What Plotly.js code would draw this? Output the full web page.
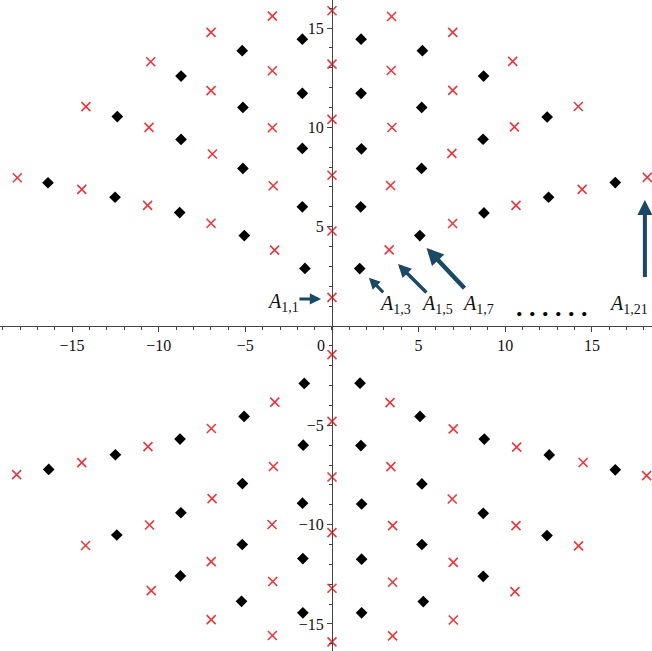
<!DOCTYPE html>
<html>
<head>
<meta charset="utf-8">
<script src="https://cdn.plot.ly/plotly-3.0.1.min.js"></script>
<style>
  html, body { margin: 0; padding: 0; background: #fff; }
  #lattice { width: 652px; height: 651px; }
</style>
</head>
<body>
<div id="lattice"></div>
<script>
// black diamonds, quadrant by quadrant (I, II, III, IV)
const blackX = [
  1.68, 1.68, 1.70, 1.66, 1.60, 5.22, 5.18, 5.17, 5.07, 8.75, 8.72, 8.77, 12.42, 12.50, 16.35,
  -1.71, -1.71, -1.71, -1.71, -1.56, -5.18, -5.14, -5.14, -5.06, -8.71, -8.71, -8.79, -12.39, -12.52, -16.39,
  -1.68, -1.68, -1.70, -1.66, -1.60, -5.22, -5.18, -5.17, -5.07, -8.75, -8.72, -8.77, -12.42, -12.50, -16.35,
  1.71, 1.71, 1.71, 1.67, 1.62, 5.27, 5.19, 5.19, 5.08, 8.73, 8.73, 8.79, 12.41, 12.54, 16.35
];
const blackY = [
  14.44, 11.71, 8.92, 6.00, 2.89, 13.86, 11.00, 7.93, 4.55, 12.58, 9.40, 5.69, 10.52, 6.48, 7.22,
  14.44, 11.71, 8.94, 6.00, 2.90, 13.86, 11.00, 7.93, 4.55, 12.58, 9.39, 5.71, 10.54, 6.48, 7.21,
  -14.44, -11.71, -8.92, -6.00, -2.89, -13.86, -11.00, -7.93, -4.55, -12.58, -9.40, -5.69, -10.52, -6.48, -7.22,
  -14.44, -11.74, -8.96, -6.02, -2.88, -13.87, -11.00, -7.95, -4.55, -12.60, -9.43, -5.69, -10.55, -6.49, -7.24
];

// red crosses: the y-axis column first, then quadrants I, II, III, IV
const redX = [
  0, 0, 0, 0, 0, 0, 0, 0, 0, 0, 0, 0,
  3.44, 3.42, 3.46, 3.38, 3.30, 6.97, 6.97, 6.92, 6.96, 10.43, 10.53, 10.62, 14.22, 14.44, 18.20,
  -3.44, -3.44, -3.44, -3.39, -3.31, -6.98, -6.98, -6.90, -6.98, -10.46, -10.56, -10.64, -14.20, -14.44, -18.16,
  -3.44, -3.42, -3.46, -3.38, -3.30, -6.97, -6.97, -6.92, -6.96, -10.43, -10.53, -10.62, -14.22, -14.44, -18.20,
  3.50, 3.50, 3.50, 3.40, 3.35, 7.00, 7.00, 6.94, 7.00, 10.56, 10.62, 10.66, 14.23, 14.50, 18.16
];
const redY = [
  1.44, 4.78, 7.59, 10.40, 13.18, 15.87, -1.44, -4.80, -7.60, -10.40, -13.20, -15.90,
  15.58, 12.86, 9.99, 7.07, 3.83, 14.78, 11.86, 8.69, 5.16, 13.32, 10.02, 6.07, 11.05, 6.88, 7.48,
  15.60, 12.85, 9.98, 7.06, 3.82, 14.78, 11.85, 8.66, 5.17, 13.30, 10.00, 6.07, 11.04, 6.88, 7.46,
  -15.58, -12.86, -9.99, -7.07, -3.83, -14.78, -11.86, -8.69, -5.16, -13.32, -10.02, -6.07, -11.05, -6.88, -7.48,
  -15.60, -12.90, -10.05, -7.08, -3.86, -14.80, -11.90, -8.71, -5.18, -13.37, -10.05, -6.10, -11.07, -6.87, -7.53
];

const tickVals = [-15, -10, -5, 5, 10, 15];

// labels and the arrows that point at the first few lattice sites
const labelText = ["1,1", "1,3", "1,5", "1,7", "1,21"];
const labelX = [-2.83, 3.64, 6.06, 8.42, 15.9];
const labelY = [1.16, 1.06, 1.06, 1.06, 1.06];

const arrowHeadX = [-0.63, 2.13, 3.81, 5.46, 18.06];
const arrowHeadY = [1.36, 2.43, 3.12, 3.93, 6.34];
const arrowTailX = [-2.08, 3.16, 5.65, 7.85, 18.06];
const arrowTailY = [1.36, 1.51, 1.51, 1.71, 1.96];
const arrowWidth = [3, 3, 3.5, 4.5, 4];

const serif = "Liberation Serif, Times New Roman, serif";
const arrowColor = "#1b4862";

const traces = [
  {
    x: redX, y: redY,
    type: "scatter", mode: "markers",
    marker: { symbol: "x-thin", size: 9, line: { width: 1.6, color: "#e8383d" }, color: "#e8383d" },
    cliponaxis: false,
    hoverinfo: "x+y"
  },
  {
    x: blackX, y: blackY,
    type: "scatter", mode: "markers",
    marker: { symbol: "diamond", size: 9, color: "#000" },
    cliponaxis: false,
    hoverinfo: "x+y"
  }
];

const annotations = [];
labelText.forEach((sub, i) => {
  annotations.push({
    x: labelX[i], y: labelY[i], xref: "x", yref: "y",
    text: "<i>A</i><sub>" + sub + "</sub>",
    showarrow: false,
    xanchor: i === 4 ? "left" : "center",
    yanchor: "middle",
    font: { family: serif, size: 20, color: "#111" }
  });
  annotations.push({
    x: arrowHeadX[i], y: arrowHeadY[i], xref: "x", yref: "y",
    ax: arrowTailX[i], ay: arrowTailY[i], axref: "x", ayref: "y",
    text: " ",
    showarrow: true,
    arrowhead: 2, arrowsize: 0.75, arrowwidth: arrowWidth[i],
    arrowcolor: arrowColor, standoff: 0
  });
});
annotations.push({
  x: 12.7, y: 0.95, xref: "x", yref: "y",
  text: "<b>. . . . . .</b>", showarrow: false,
  font: { family: serif, size: 26, color: "#000" }
});
annotations.push({
  x: -0.63, y: -0.96, xref: "x", yref: "y",
  text: "0", showarrow: false,
  font: { family: serif, size: 16, color: "#111" }
});

const layout = {
  width: 652, height: 651,
  margin: { l: 0, r: 0, t: 0, b: 0 },
  paper_bgcolor: "#fff", plot_bgcolor: "#fff",
  showlegend: false,
  font: { family: serif, size: 16, color: "#111" },
  xaxis: {
    range: [-19.16, 18.47],
    anchor: "free", position: 0.4992,
    showgrid: false, zeroline: false,
    showline: true, linecolor: "#444", linewidth: 1,
    tickmode: "array", tickvals: tickVals,
    ticks: "outside", ticklen: 5, tickcolor: "#444",
    minor: { tickmode: "linear", tick0: 0, dtick: 1, ticks: "outside", ticklen: 3, tickcolor: "#444" },
    tickfont: { family: serif, size: 16, color: "#111" }
  },
  yaxis: {
    range: [-16.36, 16.41],
    anchor: "free", position: 0.5092,
    showgrid: false, zeroline: false,
    showline: true, linecolor: "#444", linewidth: 1,
    tickmode: "array", tickvals: tickVals,
    ticks: "outside", ticklen: 5, tickcolor: "#444",
    minor: { tickmode: "linear", tick0: 0, dtick: 1, ticks: "outside", ticklen: 3, tickcolor: "#444" },
    tickfont: { family: serif, size: 16, color: "#111" }
  },
  annotations
};

Plotly.newPlot("lattice", traces, layout, { staticPlot: true });
</script>
</body>
</html>
